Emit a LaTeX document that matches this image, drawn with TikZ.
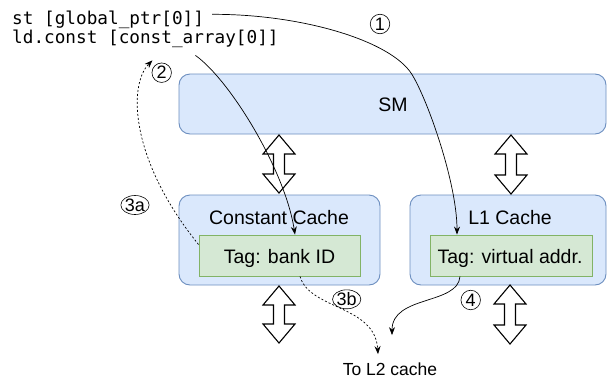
\documentclass[tikz,border=0pt]{standalone}
\usepackage{fontspec}
\setmainfont{Liberation Sans}
\setmonofont{DejaVu Sans Mono}
\usetikzlibrary{arrows.meta,shapes.geometric}
\definecolor{bluefill}{HTML}{DAE8FC}
\definecolor{blueline}{HTML}{6C8EBF}
\definecolor{greenfill}{HTML}{D5E8D4}
\definecolor{greenline}{HTML}{82B366}

\begin{document}
\begin{tikzpicture}[x=1pt,y=-1pt,
  cachebox/.style={shape=rectangle,draw=blueline,fill=bluefill,rounded corners=11pt,line width=0.9pt,inner sep=0},
  tagbox/.style={shape=rectangle,draw=greenline,fill=greenfill,line width=0.9pt,inner sep=0},
  lbl/.style={inner sep=0,anchor=base,font=\fontsize{19.5}{22}\selectfont},
  code/.style={inner sep=0,anchor=base west,font=\ttfamily\fontsize{17.7}{20}\selectfont},
  num/.style={circle,draw,inner sep=0,minimum size=19.5pt,line width=0.6pt,font=\fontsize{18}{18}\selectfont},
  numab/.style={ellipse,draw,inner sep=0,minimum width=28pt,minimum height=19pt,line width=0.6pt,font=\fontsize{18}{18}\selectfont},
  flow/.style={-{Stealth[length=8pt,width=6pt]},line width=0.7pt},
  dflow/.style={flow,dash pattern=on 2pt off 2pt},
  blockarrow/.style={draw,fill=white,line width=1.1pt,line join=miter}]

\useasboundingbox (0,0) rectangle (608,378);

% boxes
\node[cachebox,minimum width=427pt,minimum height=60pt] (sm) at (392.5,104) {};
\node[cachebox,minimum width=201pt,minimum height=90pt] (cc) at (279.5,240) {};
\node[cachebox,minimum width=196pt,minimum height=90pt] (l1) at (508,240) {};
\node[tagbox,minimum width=161pt,minimum height=41pt] (tagcc) at (279.5,255.5) {};
\node[tagbox,minimum width=162pt,minimum height=41pt] (tagl1) at (511,255.5) {};

% texts
\node[lbl] (smlbl) at (393,111) {SM};
\node[lbl] (cclbl) at (279,224) {Constant Cache};
\node[lbl] (l1lbl) at (510,224) {L1 Cache};
\node[lbl] (tagcclbl) at (279.5,263) {Tag: bank ID};
\node[lbl] (tagl1lbl) at (510,263) {Tag: virtual addr.};
\node[lbl,font=\fontsize{17.5}{20}\selectfont] (l2) at (390,375) {To L2 cache};
\node[code] (st) at (12,24) {st [global\_ptr[0]]};
\node[code] (ld) at (12,43) {ld.const [const\_array[0]]};

% block arrows
\foreach \x/\ya/\yb in {279/135/193,511/135/194,279/286/343,510/285/344}
  \draw[blockarrow] (\x,\ya) -- ++(16,19) -- ++(-10.5,0) -- (\x+5.5,\yb-19) -- ++(10.5,0)
    -- (\x,\yb) -- ++(-16,-19) -- ++(10.5,0) -- (\x-5.5,\ya+19) -- ++(-10.5,0) -- cycle;

% connectors
\draw[flow] ([xshift=8pt,yshift=5pt]st.east) .. controls (300,14) and (390,40) .. (411.7,74)
  .. controls (427.6,99.5) and (457,183) .. ([xshift=-54pt]tagl1.north);
\draw[flow] ([xshift=50pt,yshift=-8pt]ld.south) .. controls (230,80) and (285,170) .. ([xshift=15.5pt]tagcc.north);
\draw[dflow] ([yshift=11pt]tagcc.west) .. controls (130,160) and (128,85) .. ([xshift=7pt,yshift=-13pt]ld.south);
\draw[dflow] ([xshift=20.5pt]tagcc.south) .. controls (310,310) and (375,305) .. ([xshift=-12pt,yshift=8pt]l2.north);
\draw[flow] ([xshift=-51pt]tagl1.south) .. controls (458,305) and (392,295) .. ([xshift=2pt,yshift=27pt]l2.north);

% step numbers
\node[num] (n1) at (380,24) {1};
\node[num] (n2) at (161.7,72.7) {2};
\node[numab] (n3a) at (135,205) {3a};
\node[numab] (n3b) at (346.7,299.3) {3b};
\node[num] (n4) at (470.7,300) {4};

\end{tikzpicture}
\end{document}
